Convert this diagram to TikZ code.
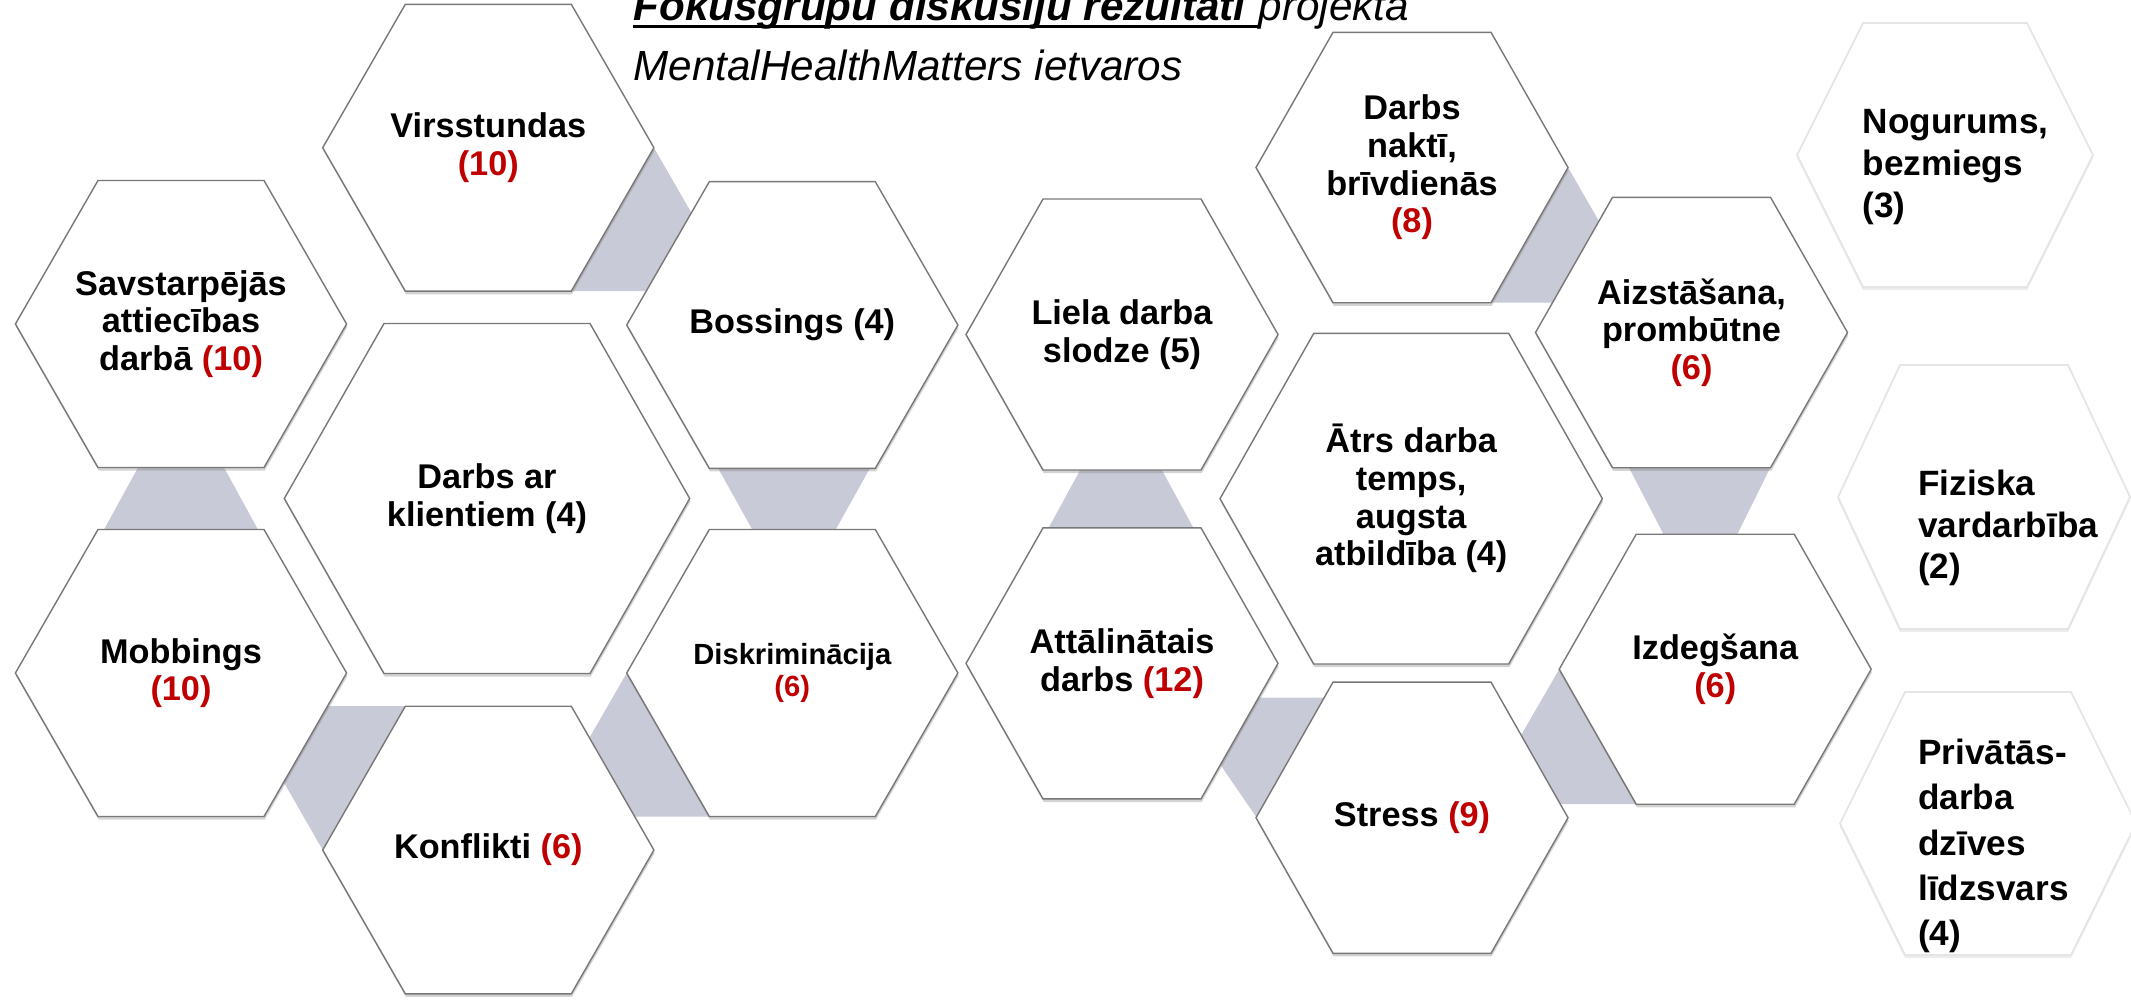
\documentclass[tikz,border=0pt]{standalone}
\usepackage{fontspec}
\setmainfont{Liberation Sans}
\usetikzlibrary{calc}
\usetikzlibrary{shadows}
\definecolor{numred}{RGB}{192,0,0}
\definecolor{linkgray}{RGB}{201,202,215}
\definecolor{edgegray}{RGB}{120,120,120}

\newcommand{\cnt}[1]{\textcolor{numred}{#1}}
% hexagon: centre, half width, half top edge, half height
\newcommand{\hexcell}[5][cell]{%
  \path[#1] ($(#2)+(-#3,0)$) -- ($(#2)+(-#4,-#5)$) -- ($(#2)+(#4,-#5)$)
    -- ($(#2)+(#3,0)$) -- ($(#2)+(#4,#5)$) -- ($(#2)+(-#4,#5)$) -- cycle;}

\begin{document}
\begin{tikzpicture}[x=0.01cm, y=-0.01cm,
  cell/.style={draw=edgegray, line width=0.4pt, fill=white,
    drop shadow={shadow xshift=0.2pt, shadow yshift=-0.9pt, opacity=0.35}},
  ghost/.style={draw=black!10, line width=0.5pt, fill=white,
    drop shadow={shadow xshift=0pt, shadow yshift=-0.9pt, opacity=0.15}},
  link/.style={fill=linkgray},
  lbl/.style={font=\fontsize{9.75}{10.7}\selectfont\bfseries, align=center, inner sep=0pt},
  smalllbl/.style={font=\fontsize{8.3}{9}\selectfont\bfseries, align=center, inner sep=0pt},
  sidelbl/.style={font=\fontsize{10}{11.9}\selectfont\bfseries, align=left, anchor=west, inner sep=0pt},
  titletxt/.style={font=\fontsize{12}{14}\selectfont\itshape, anchor=base west, inner sep=0pt}]
\useasboundingbox (0,0) rectangle (2131,1000);

% hexagon centres
\coordinate (sav) at (181,324);
\coordinate (virs) at (488.3,147.7);
\coordinate (klient) at (487,498.5);
\coordinate (boss) at (792.3,325);
\coordinate (mob) at (181,673);
\coordinate (disk) at (792.3,673);
\coordinate (konf) at (488.3,850);
\coordinate (slodze) at (1122,334.5);
\coordinate (attal) at (1122,663.4);
\coordinate (nakts) at (1412,167.5);
\coordinate (temps) at (1411.2,498.7);
\coordinate (aizst) at (1691.5,332.5);
\coordinate (izdeg) at (1715.2,669.2);
\coordinate (stress) at (1412,817.7);
\coordinate (nogur) at (1945,155);
\coordinate (fiz) at (1984,497);
\coordinate (priv) at (1988,823.5);

% grey links behind the cells
\fill[link] ($(virs)+(165.6,0)$) -- ($(virs)+(248.2,143.4)$) -- ($(virs)+(83,143.4)$) -- cycle;
\fill[link] ($(nakts)+(156,0)$) -- ($(nakts)+(234,135.2)$) -- ($(nakts)+(79,135.2)$) -- cycle;
\fill[link] ($(disk)+(-165.6,0)$) -- ($(disk)+(-248.2,143.5)$) -- ($(disk)+(-83,143.5)$) -- cycle;
\fill[link] ($(izdeg)+(-156,0)$) -- ($(izdeg)+(-234,135)$) -- ($(izdeg)+(-79,135)$) -- cycle;
\fill[link] ($(konf)+(-165.6,0)$) -- ($(konf)+(-248.2,-143.8)$) -- ($(konf)+(-83,-143.8)$) -- cycle;
\fill[link] ($(stress)+(-212,-120)$) -- ($(stress)+(-72,-120)$) -- ($(stress)+(-140,22.3)$) -- ($(stress)+(-222.3,-97.7)$) -- cycle;
\fill[link] ($(mob)+(-38.9,-213)$) -- ($(mob)+(38.9,-213)$) -- ($(mob)+(82.7,-133)$) -- ($(mob)+(-82.7,-133)$) -- cycle;
\fill[link] ($(disk)+(-78.8,-213)$) -- ($(disk)+(82.2,-213)$) -- ($(disk)+(38.7,-135)$) -- ($(disk)+(-35.3,-135)$) -- cycle;
\fill[link] ($(attal)+(-37.5,-201.4)$) -- ($(attal)+(35.5,-201.4)$) -- ($(attal)+(75.8,-127.4)$) -- ($(attal)+(-77.8,-127.4)$) -- cycle;
\fill[link] ($(izdeg)+(-90.2,-209.2)$) -- ($(izdeg)+(58.8,-209.2)$) -- ($(izdeg)+(18.3,-127.2)$) -- ($(izdeg)+(-47.7,-127.2)$) -- cycle;

% cells
\foreach \c/\w/\t/\h in {sav/165.6/83/143.5, virs/165.6/83/143.4, klient/202.7/103/175,
    boss/165.6/83/143.3, mob/165.6/83/143.5, disk/165.6/83/143.5, konf/165.6/83/143.8,
    slodze/156/79/135.5, attal/156/79/135.5, nakts/156/79/135.2, temps/191.2/97.5/165.3,
    aizst/156/79/135.2, izdeg/156/79/135, stress/156/79/135.6} {
  \hexcell{\c}{\w}{\t}{\h}
}
\hexcell[ghost]{nogur}{148}{82}{132}
\hexcell[ghost]{fiz}{146}{84}{132}
\hexcell[ghost]{priv}{148}{83}{131.5}

% labels
\node[lbl] (savtxt) at (sav) {Savstarpējās\\attiecības\\darbā \cnt{(10)}};
\node[lbl] (virstxt) at (virs) {Virsstundas\\\cnt{(10)}};
\node[lbl] (klienttxt) at (klient) {Darbs ar\\klientiem (4)};
\node[lbl] (bosstxt) at (boss) {Bossings (4)};
\node[lbl] (mobtxt) at (mob) {Mobbings\\\cnt{(10)}};
\node[smalllbl] (disktxt) at (disk) {Diskriminācija\\\cnt{(6)}};
\node[lbl] (konftxt) at (konf) {Konflikti \cnt{(6)}};
\node[lbl] (slodzetxt) at (slodze) {Liela darba\\slodze (5)};
\node[lbl] (attaltxt) at (attal) {Attālinātais\\darbs \cnt{(12)}};
\node[lbl] (naktstxt) at (nakts) {Darbs\\naktī,\\brīvdienās\\\cnt{(8)}};
\node[lbl] (tempstxt) at (temps) {Ātrs darba\\temps,\\augsta\\atbildība (4)};
\node[lbl] (aizsttxt) at (aizst) {Aizstāšana,\\prombūtne\\\cnt{(6)}};
\node[lbl] (izdegtxt) at (izdeg) {Izdegšana\\\cnt{(6)}};
\node[lbl] (stresstxt) at (stress) {Stress \cnt{(9)}};
\node[sidelbl] (nogurtxt) at (1862,167) {Nogurums,\\bezmiegs\\(3)};
\node[sidelbl] (fiztxt) at (1917.5,528) {Fiziska\\vardarbība\\(2)};
\node[sidelbl, font=\fontsize{10}{12.9}\selectfont\bfseries] (privtxt) at (1917.5,846) {Privātās-\\darba\\dzīves\\līdzsvars\\(4)};

% title
\node[titletxt, font=\fontsize{12}{14}\selectfont\itshape\bfseries] (title) at (633,20) {Fokusgrupu diskusiju rezultāti\ \kern0pt};
\node[titletxt] (titletail) at (title.base east) {projekta};
\draw[line width=0.65pt] ($(title.base west)+(0,6.5)$) -- ($(title.base east)+(0,6.5)$);
\node[titletxt] (subtitle) at (633,80) {MentalHealthMatters ietvaros};
\end{tikzpicture}
\end{document}
